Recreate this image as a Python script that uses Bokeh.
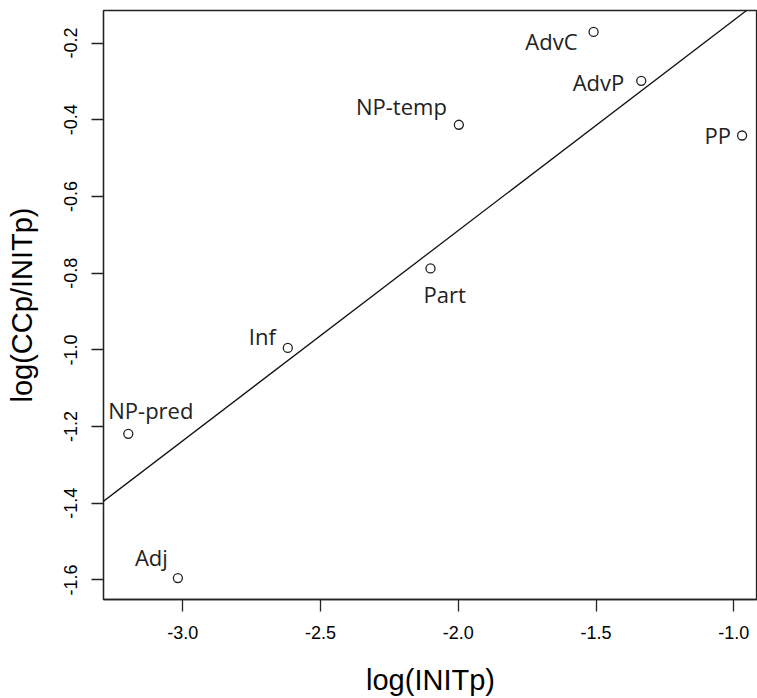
import numpy as np
from bokeh.plotting import figure
from bokeh.models import ColumnDataSource, Slope, Range1d, FixedTicker, LabelSet
from bokeh.core.properties import value
from bokeh.embed import file_html
from bokeh.resources import INLINE

# data
categories = ["AdvC", "AdvP", "PP", "NP-temp", "Part", "Inf", "NP-pred", "Adj"]
log_initp = [-1.509, -1.336, -0.970, -1.998, -2.101, -2.619, -3.198, -3.018]
log_ccp_initp = [-0.171, -0.2985, -0.441, -0.413, -0.7875, -0.995, -1.219, -1.595]
x_ticks = [-3.0, -2.5, -2.0, -1.5, -1.0]
y_ticks = [-1.6, -1.4, -1.2, -1.0, -0.8, -0.6, -0.4, -0.2]
x_title = "log(INITp)"
y_title = "log(CCp/INITp)"

# label placement (pixel offsets to the text baseline, style only)
label_dx = [-16, -17, -11, -12, -7, -12, -20, -10]
label_dy = [-18, -10, -8, 10, -35, 3, 15, 12]
label_align = ["right", "right", "right", "right", "left", "right", "left", "right"]

src = ColumnDataSource(dict(x=log_initp, y=log_ccp_initp, name=categories,
                            dx=label_dx, dy=label_dy, align=label_align))

p = figure(width=757, height=698, output_backend="svg", toolbar_location=None,
           x_range=Range1d(-3.288, -0.914), y_range=Range1d(-1.651, -0.115),
           min_border_left=103, min_border_right=0, min_border_top=10, min_border_bottom=95)
p.grid.visible = False
p.outline_line_color = "#222222"
p.outline_line_width = 1.3
p.background_fill_color = "white"
p.border_fill_color = "white"

slope, intercept = np.polyfit(np.array(log_initp), np.array(log_ccp_initp), 1)
p.add_layout(Slope(gradient=float(slope), y_intercept=float(intercept),
                   line_color="#111111", line_width=1.3))

p.scatter("x", "y", source=src, size=9, fill_color=None, line_color="#222222", line_width=1.3)

labels = LabelSet(x="x", y="y", text="name", source=src, x_offset="dx", y_offset="dy",
                  text_align="align", text_baseline="alphabetic",
                  text_font=value("Open Sans"), text_font_size=value("22px"),
                  text_color="#222222")
p.add_layout(labels)

for ax in (p.xaxis[0], p.yaxis[0]):
    ax.axis_line_color = "#222222"
    ax.axis_line_width = 1.3
    ax.major_tick_line_color = "#222222"
    ax.major_tick_line_width = 1.3
    ax.major_tick_out = 12
    ax.major_tick_in = 0
    ax.minor_tick_line_color = None
    ax.major_label_text_font = "Liberation Sans"
    ax.major_label_text_font_size = "18px"
    ax.major_label_text_color = "black"
    ax.axis_label_text_font = "Liberation Sans"
    ax.axis_label_text_font_size = "29px"
    ax.axis_label_text_font_style = "normal"
    ax.axis_label_text_color = "black"
    ax.major_label_standoff = 14

p.xaxis.ticker = FixedTicker(ticks=x_ticks)
p.yaxis.ticker = FixedTicker(ticks=y_ticks)
p.xaxis.major_label_overrides = {t: f"{t:.1f}" for t in x_ticks}
p.yaxis.major_label_overrides = {t: f"{t:.1f}" for t in y_ticks}
p.yaxis.major_label_orientation = "vertical"
p.xaxis.axis_label = x_title
p.yaxis.axis_label = y_title
p.xaxis.axis_label_standoff = 22
p.yaxis.axis_label_standoff = 24

open("out.html", "w").write(file_html(p, INLINE))
